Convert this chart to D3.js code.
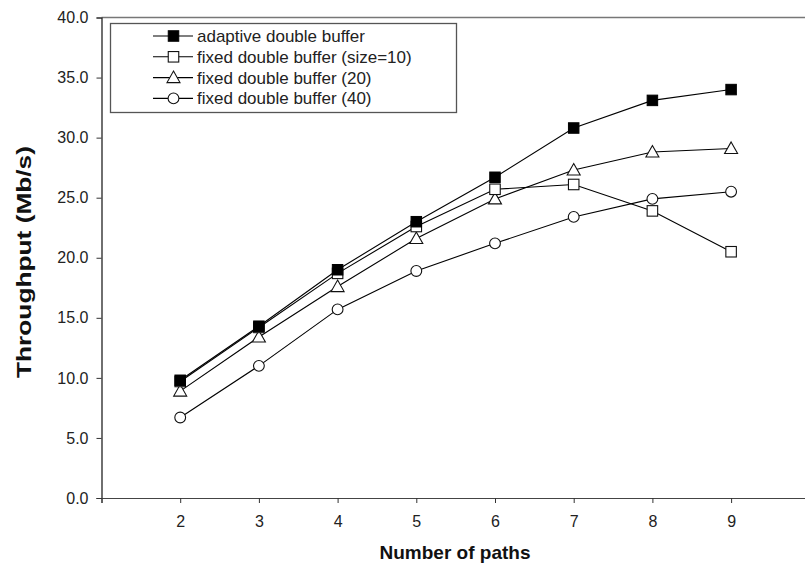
<!DOCTYPE html>
<html>
<head>
<meta charset="utf-8">
<script src="https://cdn.jsdelivr.net/npm/d3@7"></script>
<style>
  html, body { margin: 0; padding: 0; background: #fff; }
  svg { display: block; font-family: Arial, "Liberation Sans", sans-serif; }
</style>
</head>
<body>
<svg id="chart" width="805" height="566"></svg>
<script>
// Throughput vs. number of paths for four buffering schemes
const paths = [2, 3, 4, 5, 6, 7, 8, 9];
const seriesNames = [
  "adaptive double buffer",
  "fixed double buffer (size=10)",
  "fixed double buffer (20)",
  "fixed double buffer (40)"
];
const adaptive = [9.8, 14.3, 19.0, 23.0, 26.7, 30.8, 33.1, 34.0];
const fixed10  = [9.7, 14.2, 18.7, 22.6, 25.7, 26.1, 23.9, 20.5];
const fixed20  = [8.9, 13.4, 17.6, 21.6, 24.9, 27.3, 28.8, 29.1];
const fixed40  = [6.7, 11.0, 15.7, 18.9, 21.2, 23.4, 24.9, 25.5];
const xTicks = [1, 2, 3, 4, 5, 6, 7, 8, 9];
const yTicks = [0, 5, 10, 15, 20, 25, 30, 35, 40];
const markerKinds = ["filledSquare", "square", "triangle", "circle"];

const seriesValues = [adaptive, fixed10, fixed20, fixed40];

const svg = d3.select("#chart");
const x = d3.scaleLinear().domain([1, 10]).range([101.5, 809.8]);
const y = d3.scaleLinear().domain([0, 40]).range([498, 17.5]);

// Frame: top border line
svg.append("line")
  .attr("x1", x(1)).attr("x2", 805)
  .attr("y1", y(40)).attr("y2", y(40))
  .attr("stroke", "#777").attr("stroke-width", 1.5);

// Axes
const yAxis = d3.axisLeft(y).tickValues(yTicks).tickFormat(d3.format(".1f")).tickSize(5).tickPadding(8);
const gy = svg.append("g").attr("transform", `translate(${x(1)},0)`).call(yAxis);
gy.select(".domain").attr("stroke", "#111").attr("stroke-width", 1.2);
gy.selectAll(".tick line").attr("stroke", "#333");
gy.selectAll("text").attr("font-size", 16).attr("fill", "#222")
  .attr("font-family", "Arial, 'Liberation Sans', sans-serif");

const xAxis = d3.axisBottom(x).tickValues(xTicks)
  .tickFormat(d => d === 1 ? "" : d).tickSize(5).tickPadding(13);
const gx = svg.append("g").attr("transform", `translate(0,${y(0)})`).call(xAxis);
gx.select(".domain").attr("stroke", "#444").attr("stroke-width", 1.2);
gx.selectAll(".tick line").attr("stroke", "#333");
gx.selectAll("text").attr("font-size", 16).attr("fill", "#222")
  .attr("font-family", "Arial, 'Liberation Sans', sans-serif");

// Axis titles
svg.append("text")
  .attr("x", 455).attr("y", 559)
  .attr("text-anchor", "middle")
  .attr("font-size", 19).attr("font-weight", "bold").attr("fill", "#111")
  .text("Number of paths");

svg.append("text")
  .attr("transform", `translate(31,262) rotate(-90)`)
  .attr("text-anchor", "middle")
  .attr("font-size", 20).attr("font-weight", "bold").attr("fill", "#111")
  .attr("textLength", 232).attr("lengthAdjust", "spacingAndGlyphs")
  .text("Throughput (Mb/s)");

// Marker drawing
function drawMarker(g, kind, cx, cy) {
  if (kind === "filledSquare") {
    g.append("rect").attr("x", cx - 5.25).attr("y", cy - 5.25)
      .attr("width", 10.5).attr("height", 10.5).attr("fill", "#000").attr("stroke", "#000");
  } else if (kind === "square") {
    g.append("rect").attr("x", cx - 5.25).attr("y", cy - 5.25)
      .attr("width", 10.5).attr("height", 10.5).attr("fill", "#fff").attr("stroke", "#111").attr("stroke-width", 1.1);
  } else if (kind === "triangle") {
    g.append("path")
      .attr("d", `M${cx},${cy - 6.5}L${cx + 6.5},${cy + 5}L${cx - 6.5},${cy + 5}Z`)
      .attr("fill", "#fff").attr("stroke", "#111").attr("stroke-width", 1.1);
  } else {
    g.append("circle").attr("cx", cx).attr("cy", cy).attr("r", 5.4)
      .attr("fill", "#fff").attr("stroke", "#111").attr("stroke-width", 1.1);
  }
}

const line = d3.line().x((d, i) => x(paths[i])).y(d => y(d));

// Draw the last series first so the adaptive curve sits on top
const plot = svg.append("g");
for (let s = seriesValues.length - 1; s >= 0; s--) {
  const g = plot.append("g");
  g.append("path").datum(seriesValues[s])
    .attr("d", line).attr("fill", "none").attr("stroke", "#000").attr("stroke-width", 1.1);
  seriesValues[s].forEach((v, i) => drawMarker(g, markerKinds[s], x(paths[i]), y(v)));
}

// Legend
const legend = svg.append("g");
legend.append("rect")
  .attr("x", 110.5).attr("y", 23.5).attr("width", 346).attr("height", 89)
  .attr("fill", "#fff").attr("stroke", "#555").attr("stroke-width", 1.3);
seriesNames.forEach((name, s) => {
  const ly = 36 + s * 20.8;
  const g = legend.append("g");
  g.append("line").attr("x1", 153).attr("x2", 193).attr("y1", ly).attr("y2", ly)
    .attr("stroke", "#000").attr("stroke-width", 1.1);
  drawMarker(g, markerKinds[s], 173.5, ly);
  g.append("text").attr("x", 197).attr("y", ly + 6)
    .attr("font-size", 17).attr("fill", "#222").text(name);
});
</script>
</body>
</html>
